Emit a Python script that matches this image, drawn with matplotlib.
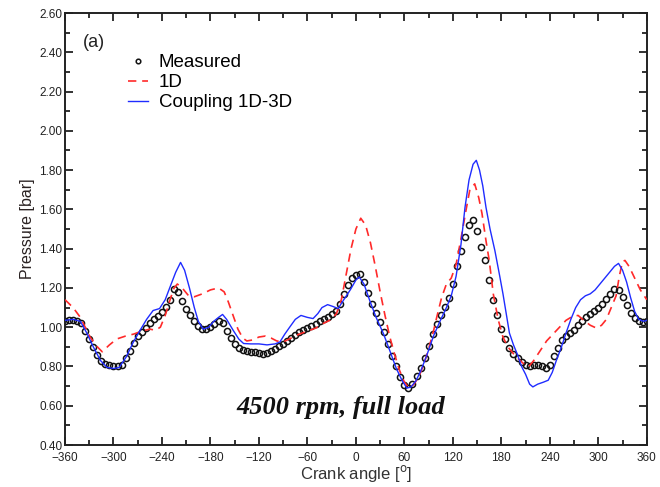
import numpy as np
import matplotlib
matplotlib.use("Agg")
import matplotlib.pyplot as plt
from matplotlib.ticker import MultipleLocator, FormatStrFormatter

# --- measured pressure, read at 5 deg steps ---------------------------------
meas_angle = list(range(-360, 361, 5))
meas_p = [
    1.03, 1.035, 1.035, 1.03, 1.02, 0.98, 0.94, 0.90, 0.86, 0.83,
    0.815, 0.805, 0.80, 0.80, 0.81, 0.845, 0.88, 0.92, 0.955, 0.975,
    0.995, 1.02, 1.04, 1.055, 1.08, 1.105, 1.14, 1.195, 1.18, 1.135,
    1.095, 1.06, 1.03, 1.005, 0.99, 0.99, 1.0, 1.015, 1.03, 1.02,
    0.98, 0.945, 0.915, 0.895, 0.885, 0.88, 0.875, 0.875, 0.87, 0.865,
    0.868, 0.878, 0.89, 0.905, 0.917, 0.93, 0.945, 0.96, 0.975, 0.985,
    0.995, 1.005, 1.015, 1.03, 1.04, 1.05, 1.065, 1.085, 1.12, 1.17,
    1.215, 1.25, 1.265, 1.27, 1.23, 1.175, 1.12, 1.07, 1.025, 0.975,
    0.915, 0.855, 0.80, 0.745, 0.705, 0.69, 0.71, 0.75, 0.79, 0.845,
    0.905, 0.965, 1.015, 1.06, 1.105, 1.15, 1.22, 1.31, 1.39, 1.46,
    1.52, 1.545, 1.49, 1.41, 1.34, 1.24, 1.14, 1.06, 0.99, 0.94,
    0.895, 0.865, 0.845, 0.825, 0.81, 0.80, 0.805, 0.805, 0.80, 0.79,
    0.81, 0.855, 0.895, 0.935, 0.955, 0.97, 0.985, 1.01, 1.03, 1.05,
    1.065, 1.085, 1.10, 1.12, 1.145, 1.17, 1.195, 1.19, 1.155, 1.115,
    1.07, 1.045, 1.03, 1.025, 1.03,
]

# --- 1D simulation ----------------------------------------------------------
d1_angle = [-360, -350, -341, -335, -329, -320, -314, -305, -296, -285,
            -275, -265, -255, -248, -242, -236, -230, -225, -221, -215,
            -207, -200, -190, -180, -170, -163, -158, -152, -146, -140,
            -135, -128, -120, -112, -105, -98, -90, -80, -70, -60,
            -50, -40, -30, -24, -18, -12, -6, 0, 6, 12,
            18, 24, 30, 36, 42, 48, 54, 60, 66, 72,
            78, 84, 90, 96, 100, 106, 112, 118, 124, 130,
            136, 141, 147, 152, 156, 161, 165, 170, 176, 182,
            188, 195, 202, 210, 214, 220, 228, 236, 244, 252,
            260, 268, 275, 282, 290, 298, 304, 310, 316, 322,
            326, 330, 333, 338, 345, 352, 360]
d1_p = [1.14, 1.10, 1.05, 1.00, 0.95, 0.90, 0.875, 0.91, 0.94, 0.955,
        0.965, 0.98, 0.99, 0.985, 1.00, 1.06, 1.14, 1.20, 1.22, 1.20,
        1.16, 1.155, 1.17, 1.19, 1.20, 1.18, 1.13, 1.06, 0.99, 0.945,
        0.93, 0.935, 0.95, 0.955, 0.945, 0.93, 0.925, 0.945, 0.965, 0.98,
        0.995, 1.02, 1.04, 1.07, 1.14, 1.27, 1.40, 1.50, 1.555, 1.52,
        1.43, 1.31, 1.18, 1.06, 0.95, 0.86, 0.78, 0.72, 0.69, 0.71,
        0.75, 0.81, 0.89, 0.98, 1.05, 1.15, 1.22, 1.25, 1.32, 1.45,
        1.59, 1.70, 1.73, 1.66, 1.58, 1.44, 1.34, 1.17, 1.04, 0.95,
        0.90, 0.865, 0.835, 0.805, 0.80, 0.83, 0.88, 0.93, 0.965, 1.0,
        1.035, 1.055, 1.06, 1.035, 1.01, 0.995, 1.01, 1.04, 1.10, 1.16,
        1.26, 1.335, 1.34, 1.31, 1.25, 1.19, 1.14]

# --- coupled 1D-3D simulation -----------------------------------------------
c3d_angle = [-360, -350, -341, -333, -325, -316, -308, -300, -293, -284,
             -276, -267, -259, -251, -243, -236, -230, -223, -217, -212,
             -206, -200, -195, -189, -182, -176, -170, -165, -160, -152,
             -145, -139, -130, -120, -110, -100, -94, -88, -82, -75,
             -68, -60, -53, -47, -42, -35, -28, -22, -15, -7,
             0, 4, 10, 17, 25, 34, 42, 50, 57, 63,
             68, 74, 80, 88, 96, 104, 112, 118, 124, 130,
             135, 140, 145, 149, 153, 157, 161, 166, 172, 178,
             182, 186, 190, 195, 200, 205, 210, 215, 219, 225,
             232, 238, 243, 248, 254, 260, 266, 272, 278, 284,
             290, 296, 302, 308, 314, 320, 325, 330, 335, 340,
             345, 350, 356, 360]
c3d_p = [1.035, 1.04, 1.03, 0.97, 0.90, 0.83, 0.795, 0.79, 0.795, 0.85,
         0.92, 0.985, 1.04, 1.085, 1.095, 1.14, 1.205, 1.28, 1.33, 1.29,
         1.20, 1.10, 1.03, 0.99, 1.00, 1.03, 1.05, 1.065, 1.04, 0.985,
         0.94, 0.917, 0.915, 0.915, 0.91, 0.915, 0.925, 0.965, 1.0, 1.04,
         1.06, 1.05, 1.044, 1.07, 1.10, 1.115, 1.105, 1.095, 1.14, 1.19,
         1.24, 1.256, 1.22, 1.137, 1.05, 0.968, 0.88, 0.79, 0.73, 0.69,
         0.695, 0.725, 0.775, 0.86, 0.955, 1.03, 1.10, 1.16, 1.26, 1.42,
         1.61, 1.75, 1.83, 1.85, 1.80, 1.72, 1.61, 1.50, 1.39, 1.26,
         1.17, 1.07, 0.97, 0.91, 0.86, 0.80, 0.76, 0.71, 0.696, 0.71,
         0.72, 0.73, 0.77, 0.83, 0.895, 0.97, 1.04, 1.10, 1.14, 1.16,
         1.17, 1.19, 1.22, 1.25, 1.28, 1.31, 1.325, 1.29, 1.23, 1.15,
         1.08, 1.04, 1.03, 1.035]

plt.rcParams["font.family"] = ["Liberation Sans", "DejaVu Sans"]

fig = plt.figure(figsize=(6.6, 4.87), dpi=100)
ax = fig.add_axes([0.0985, 0.0862, 0.8815, 0.887])

ax.plot(meas_angle, meas_p, linestyle="none", marker="o", ms=4.4,
        mfc="none", mec="#111111", mew=1.1, label="Measured", zorder=2)
ax.plot(d1_angle, d1_p, color="#ff2a2a", lw=1.2, dashes=(5, 3.5),
        label="1D", zorder=3)
ax.plot(c3d_angle, c3d_p, color="#1f2cff", lw=1.0,
        label="Coupling 1D-3D", zorder=4)

ax.set_xlim(-360, 360)
ax.set_ylim(0.40, 2.60)
ax.xaxis.set_major_locator(MultipleLocator(60))
ax.xaxis.set_minor_locator(MultipleLocator(30))
ax.yaxis.set_major_locator(MultipleLocator(0.2))
ax.yaxis.set_minor_locator(MultipleLocator(0.1))
ax.yaxis.set_major_formatter(FormatStrFormatter("%.2f"))
ax.tick_params(which="both", direction="in", top=True, right=True,
               labelsize=8.5, width=1.3, colors="#222222")
ax.tick_params(axis="y", pad=2)
ax.tick_params(axis="x", pad=5)
ax.tick_params(which="major", length=6)
ax.tick_params(which="minor", length=3.5)
for s in ax.spines.values():
    s.set_linewidth(1.4)
    s.set_color("#222222")

ax.set_xlabel(r"Crank angle [$^\mathrm{o}$]", fontsize=12, color="#333333",
              labelpad=-1)
ax.set_ylabel("Pressure [bar]", fontsize=11.5, color="#2a2222", labelpad=3)

ax.text(-338, 2.45, "(a)", fontsize=13, color="#222222", va="center")
ax.legend(loc="upper left", bbox_to_anchor=(0.108, 0.905), frameon=False,
          fontsize=13.5, handlelength=1.05, handletextpad=0.6,
          labelspacing=0.15, borderaxespad=0, borderpad=0, markerscale=0.75)
ax.text(-19, 0.59, "4500 rpm, full load", fontsize=19, ha="center",
        va="center", family="Liberation Serif", style="italic",
        weight="bold", color="#111111")

fig.savefig("out.png", dpi=100)
